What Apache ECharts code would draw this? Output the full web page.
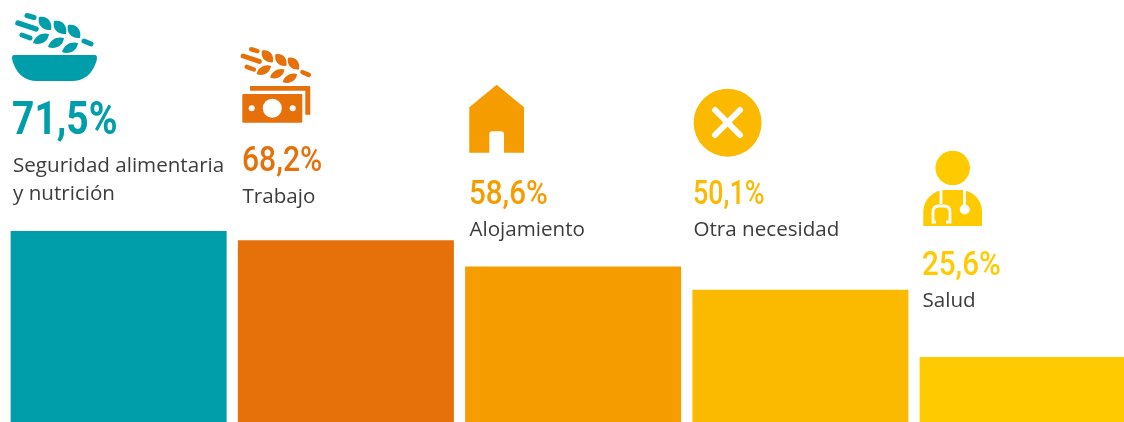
<!DOCTYPE html>
<html>
<head>
<meta charset="utf-8">
<style>html,body{margin:0;padding:0;background:#fff;overflow:hidden}#c{width:1124px;height:422px}</style>
<script src="https://cdn.jsdelivr.net/npm/echarts@6/dist/echarts.min.js"></script>
</head>
<body>
<div id="c"></div>
<script>
const categories = ['Seguridad alimentaria\ny nutrición', 'Trabajo', 'Alojamiento', 'Otra necesidad', 'Salud'];
const values = [71.5, 68.2, 58.6, 50.1, 25.6];
const valueLabels = ['71,5%', '68,2%', '58,6%', '50,1%', '25,6%'];
const colors = ['#009EAA', '#E6710A', '#F59C00', '#FBB900', '#FFCB00'];

const labelX = [12, 242, 469, 693, 922];
const pctY = [122, 162, 195, 195, 266];
const pctSize = [47, 35, 34, 34, 34];
const pctWeight = [700, 500, 500, 500, 500];
const pctScale = [0.83, 0.86, 0.87, 0.79, 0.87];
const nameLabelX = [13, 242.5, 469.5, 693.5, 922.5];
const nameY = [180, 197, 230, 230, 301];

const chart = echarts.init(document.getElementById('c'), null, {renderer: 'canvas'});

let shapeCount = 0;
function P(d, style) {
  const name = 'iconShape' + (shapeCount++);
  echarts.graphic.registerShape(name, echarts.graphic.extendPath(d, {}));
  return {type: name, style};
}

function wheat(color, x, y, s) {
  const grains = [
    'M39 17C47 15 53 22 51 30C43 31 37 25 39 17Z', 'M54 21C62 19 68 26 66 34C58 35 52 29 54 21Z', 'M68 25C76 23 82 30 80 38C72 39 66 33 68 25Z',
    'M33 43C35 35 43 32 49 34C48 42 40 46 33 43Z', 'M48 47C50 39 58 36 64 38C63 46 55 50 48 47Z', 'M62 52C64 44 72 41 78 43C77 51 69 55 62 52Z'
  ];
  const dashes = [[27, 15.5, 34, 17.5, 5], [18, 23, 36, 29, 5.5], [22, 35, 30, 38, 5], [84, 41, 91, 44, 5]];
  return {
    type: 'group', x, y, scaleX: s, scaleY: s,
    children: grains.map(d => P(d, {fill: color}))
      .concat(dashes.map(a => ({type: 'line', shape: {x1: a[0], y1: a[1], x2: a[2], y2: a[3]}, style: {stroke: color, lineWidth: a[4], lineCap: 'round'}})))
  };
}

const icons = [
  wheat(colors[0], 0, 0, 1),
  P('M14 55H95Q97 55 97 58Q97 61 95 65C91 75 83 81 72 81H37C26 81 18 75 14 65Q12 61 12 58Q12 55 14 55Z', {fill: colors[0]}),
  wheat(colors[1], 226.9, 35.3, 0.9),
  {type: 'rect', shape: {x: 242.3, y: 94, width: 60, height: 28.7, r: 1}, style: {fill: colors[1]}},
  P('M250 86H309.3Q310.3 86 310.3 87V114.7H305.3V90.7H250Z', {fill: colors[1]}),
  {type: 'circle', shape: {cx: 272.3, cy: 108.3, r: 9.5}, style: {fill: '#fff'}},
  {type: 'circle', shape: {cx: 251.7, cy: 108.3, r: 3}, style: {fill: '#fff'}},
  {type: 'circle', shape: {cx: 292.7, cy: 108.3, r: 3}, style: {fill: '#fff'}},
  P('M496.7 84.7L524 107.3V152.7H504V134Q504 131.3 501 131.3H492.3Q489.3 131.3 489.3 134V152.7H469.3V107.3Z', {fill: colors[2]}),
  {type: 'circle', shape: {cx: 727.6, cy: 122.7, r: 34}, style: {fill: colors[3]}},
  {type: 'line', shape: {x1: 715, y1: 110, x2: 740, y2: 135}, style: {stroke: '#fff', lineWidth: 6, lineCap: 'round'}},
  {type: 'line', shape: {x1: 740, y1: 110, x2: 715, y2: 135}, style: {stroke: '#fff', lineWidth: 6, lineCap: 'round'}},
  {type: 'circle', shape: {cx: 952.7, cy: 168, r: 17.3}, style: {fill: colors[4]}},
  P('M923.3 226V212C923.3 199 934 190 945 190H960C972 190 982 199 982 212V226Z', {fill: colors[4]}),
  P('M941 190V204M936 222H933V212Q933 206 939 206H944Q950 206 950 212V222H946', {fill: 'none', stroke: '#fff', lineWidth: 2.8}),
  {type: 'line', shape: {x1: 964.5, y1: 190, x2: 964.5, y2: 206}, style: {stroke: '#fff', lineWidth: 2.8}},
  {type: 'circle', shape: {cx: 964.7, cy: 209.5, r: 5}, style: {fill: '#fff'}}
];

const texts = [];
categories.forEach((name, i) => {
  texts.push({
    type: 'text', x: labelX[i], y: pctY[i], scaleX: pctScale[i], originX: 0, originY: 0,
    style: {text: valueLabels[i], fill: colors[i], font: pctWeight[i] + ' ' + pctSize[i] + 'px Roboto', textAlign: 'left', textVerticalAlign: 'middle'}
  });
  texts.push({
    type: 'text', x: nameLabelX[i], y: nameY[i],
    style: {text: name, fill: '#3c3c3c', font: '20.6px "Open Sans"', lineHeight: 28, textAlign: 'left', textVerticalAlign: 'middle'}
  });
});

chart.setOption({
  animation: false,
  backgroundColor: '#ffffff',
  grid: {left: 5, top: 0, width: 1136.25, height: 422, containLabel: false, outerBoundsMode: 'none'},
  xAxis: {type: 'category', data: categories, show: false},
  yAxis: {type: 'value', min: 1.93, max: 155.7, show: false},
  series: [{
    type: 'bar', barWidth: 216, silent: true,
    data: values.map((v, i) => ({value: v, itemStyle: {color: colors[i]}}))
  }],
  graphic: {elements: icons.concat(texts)}
});
</script>
</body>
</html>
